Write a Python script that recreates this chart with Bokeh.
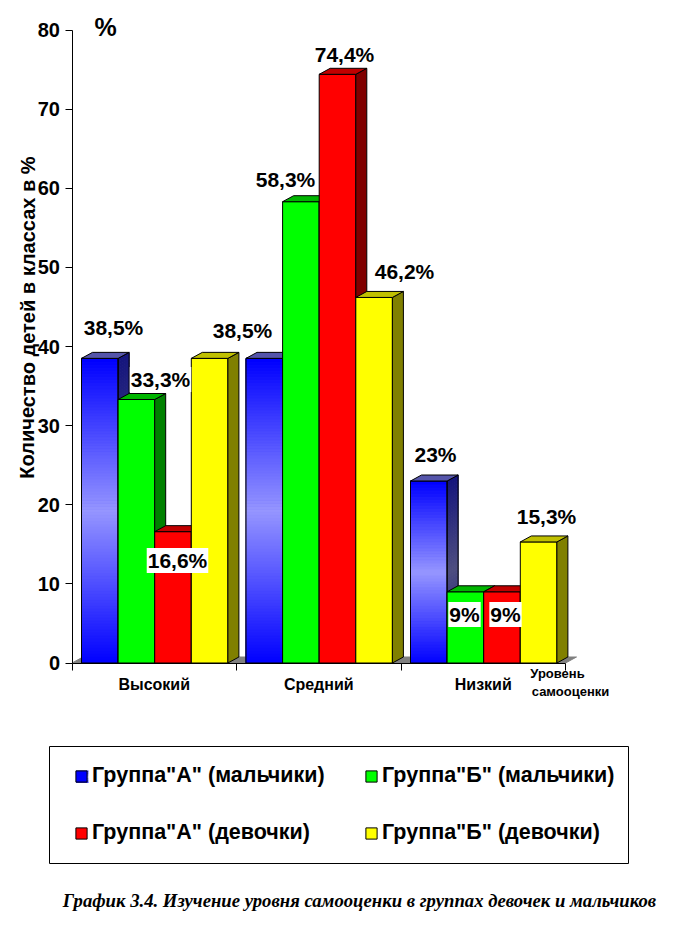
from bokeh.plotting import figure
from bokeh.models import (Label, Legend, LegendItem, FixedTicker, Range1d)
from bokeh.embed import file_html
from bokeh.resources import INLINE

categories = ["Высокий", "Средний", "Низкий"]
boys_a = [38.5, 38.5, 23]
boys_b = [33.3, 58.3, 9]
girls_a = [16.6, 74.4, 9]
girls_b = [38.5, 46.2, 15.3]
y_ticks = [0, 10, 20, 30, 40, 50, 60, 70, 80]
series_names = ['Группа"А" (мальчики)', 'Группа"Б" (мальчики)', 'Группа"А" (девочки)', 'Группа"Б" (девочки)']
value_labels = ["38,5%", "33,3%", "16,6%", "38,5%", "58,3%", "74,4%", "46,2%", "23%", "9%", "9%", "15,3%"]

# layout (page pixels)
PX_X0, PX_GROUP = 71.5, 164.5
PX_Y0, PX_UNIT = 662.5, 633 / 80
LABEL_DX, LABEL_DY = 1, 1
W, H = 690, 920
BAR = 36.6 / PX_GROUP
GAP = 9.5 / PX_GROUP
DX = 11 / PX_GROUP
DY = 6 / PX_UNIT
FONT = "Liberation Sans"

def X(px):
    return (px - PX_X0) / PX_GROUP

def Y(px):
    return (PX_Y0 - px) / PX_UNIT

p = figure(width=W, height=H, output_backend="svg", toolbar_location=None,
           x_range=Range1d(X(0), X(W)), y_range=Range1d(Y(H), Y(0)),
           min_border=0, outline_line_color=None, background_fill_color="white",
           x_axis_location="below", y_axis_location="left")
p.grid.visible = False

# axes placed inside the frame
ya = p.yaxis[0]
ya.fixed_location = 0
ya.bounds = (0, 80)
ya.ticker = FixedTicker(ticks=y_ticks)
ya.minor_tick_line_color = None
ya.major_tick_out = 7
ya.major_tick_in = 0
ya.axis_line_color = "black"
ya.major_tick_line_color = "black"
ya.major_label_text_font = FONT
ya.major_label_text_font_style = "bold"
ya.major_label_text_font_size = "20px"
ya.major_label_text_color = "black"
ya.major_label_standoff = 5

xa = p.xaxis[0]
xa.fixed_location = 0
xa.bounds = (0, 3)
xa.ticker = FixedTicker(ticks=[0.5, 1.5, 2.5], minor_ticks=[0, 1, 2, 3])
xa.major_label_overrides = {0.5: categories[0], 1.5: categories[1], 2.5: categories[2]}
xa.major_tick_out = 0
xa.major_tick_in = 0
xa.minor_tick_out = 7
xa.minor_tick_in = 0
xa.minor_tick_line_color = "black"
xa.axis_line_color = "black"
xa.major_label_text_font = FONT
xa.major_label_text_font_style = "bold"
xa.major_label_text_font_size = "16px"
xa.major_label_text_color = "black"
xa.major_label_standoff = 6

# floor
p.patch([0, 3, 3 + DX, DX], [0, 0, DY, DY], fill_color="#808080", line_color="#808080")

def lerp(c1, c2, t):
    return "#%02x%02x%02x" % tuple(round(a + (b - a) * t) for a, b in zip(c1, c2))

def gradient_t(i, n):
    return 1 - abs(2 * (i + 0.5) / n - 1)

series = [
    (boys_a, "#0000ff", None, "#5555aa"),
    (boys_b, "#00ff00", "#008000", "#00b400"),
    (girls_a, "#ff0000", "#800000", "#c00000"),
    (girls_b, "#ffff00", "#808000", "#c0c000"),
]
legend_items = []
for s, (vals, body, side, top) in enumerate(series):
    left = [g + GAP + s * BAR for g in range(3)]
    right = [x + BAR for x in left]
    zero = [0] * 3
    base = p.quad(left=left, right=right, top=vals, bottom=zero, fill_color=body, line_color="black")
    legend_items.append(LegendItem(label=series_names[s], renderers=[base]))
    if s == 0:
        # vertical blue gradient on front and side faces
        for l, r, v in zip(left, right, vals):
            n = max(int(v * PX_UNIT / 3), 8)
            st = [v * i / n for i in range(n + 1)]
            cols = [lerp((0, 0, 255), (150, 150, 255), gradient_t(i, n)) for i in range(n)]
            p.quad(left=[l] * n, right=[r] * n, bottom=st[:-1], top=st[1:], line_color=cols, fill_color=cols)
            cols2 = [lerp((20, 20, 125), (78, 78, 128), gradient_t(i, n)) for i in range(n)]
            p.patches(xs=[[r, r + DX, r + DX, r] for _ in range(n)],
                      ys=[[st[i], st[i] + DY, st[i + 1] + DY, st[i + 1]] for i in range(n)],
                      line_color=cols2, fill_color=cols2)
        p.quad(left=left, right=right, top=vals, bottom=zero, fill_color=None, line_color="black")
        p.patches(xs=[[r, r + DX, r + DX, r] for r in right],
                  ys=[[0, DY, v + DY, v] for v in vals], fill_color=None, line_color="black")
    else:
        p.patches(xs=[[r, r + DX, r + DX, r] for r in right],
                  ys=[[0, DY, v + DY, v] for v in vals], fill_color=side, line_color="black")
    p.patches(xs=[[l, l + DX, r + DX, r] for l, r in zip(left, right)],
              ys=[[v, v + DY, v + DY, v] for v in vals], fill_color=top, line_color="black")

def text(px, py, s, size, bold=True, bg=None, angle=0, italic=False, font=FONT, pad=0):
    style = "bold italic" if bold and italic else ("bold" if bold else "normal")
    p.add_layout(Label(x=X(px + LABEL_DX), y=Y(py + LABEL_DY), text=s, text_font=font, text_font_size=size,
                       text_font_style=style, text_color="black", text_align="center",
                       text_baseline="middle", angle=angle, padding=pad,
                       background_fill_color=bg))

# value labels
label_px = [(112, 326), (159, 378), (176, 559), (241, 329), (284, 178), (343, 53),
            (403, 270), (434, 453), (463, 613), (504, 613), (545, 515)]
white_bg = {1, 2, 8, 9}
for i, ((x, y), s) in enumerate(zip(label_px, value_labels)):
    text(x, y, s, "21px", bg="white" if i in white_bg else None, pad=1)

text(104, 25, "%", "25px")
text(26, 316, "Количество детей в классах в %", "20px", angle=1.5707963)
text(556, 672, "Уровень", "13px")
text(569, 690, "самооценки", "13px")
text(358, 899, "График 3.4. Изучение уровня самооценки в группах девочек и мальчиков",
     "18.7px", italic=True, font="Liberation Serif")

# legend frame
p.quad(left=[X(49)], right=[X(628)], top=[Y(746)], bottom=[Y(863)],
       fill_color="white", line_color="black")

ordered = [legend_items[0], legend_items[2], legend_items[1], legend_items[3]]
legend = Legend(items=ordered, ncols=2, location=(74, 75), padding=0, margin=0,
                spacing=32, glyph_width=14, glyph_height=14, label_standoff=4,
                label_height=18, label_width=240, border_line_color=None, background_fill_alpha=0,
                label_text_font=FONT, label_text_font_style="bold",
                label_text_font_size="21.5px", label_text_color="black")
p.add_layout(legend, "center")

# gradient on the first legend swatch
n = 7
sw_edges = [Y(782.5 - 12.5 * i / n) for i in range(n + 1)]
sw_cols = [lerp((40, 40, 255), (170, 170, 255), gradient_t(i, n)) for i in range(n)]
p.quad(left=[X(75.5)] * n, right=[X(88)] * n, bottom=sw_edges[:-1], top=sw_edges[1:],
       fill_color=sw_cols, line_color=None, level="overlay")

file = open("out.html", "w")
file.write(file_html(p, INLINE))
file.close()
